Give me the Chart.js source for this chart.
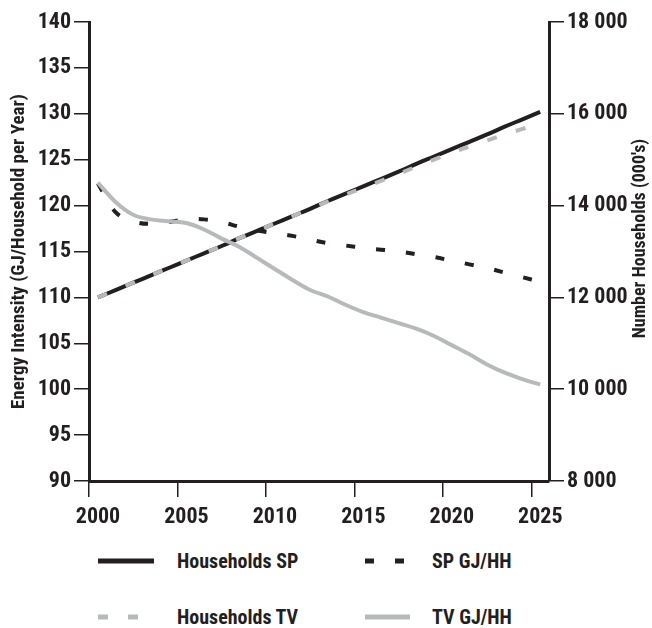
<!DOCTYPE html>
<html lang="en">
<head>
  <meta charset="UTF-8">
  <title>Energy Intensity and Households</title>
  <script src="https://cdn.jsdelivr.net/npm/chart.js"></script>
  <style>
    body {
      margin: 0;
      background: #fff;
      width: 652px;
      height: 628px;
      overflow: hidden;
      font-family: 'Roboto Condensed', 'Open Sans Condensed', sans-serif;
      font-weight: bold;
      color: #231f20;
    }
    #wrap { position: relative; width: 652px; height: 530px; }
    #legend { position: relative; width: 652px; height: 98px; }
    .item { position: absolute; display: flex; align-items: center; font-size: 20px; }
    .item svg { display: block; }
  </style>
</head>
<body>
  <div id="wrap"><canvas id="energyChart"></canvas></div>
  <div id="legend"></div>

  <script>
    const years = [2000, 2001, 2002, 2003, 2004, 2005, 2006, 2007, 2008, 2009, 2010, 2011, 2012,
                   2013, 2014, 2015, 2016, 2017, 2018, 2019, 2020, 2021, 2022, 2023, 2024, 2025];

    // number of households, thousands (right axis)
    const householdsSP = [12000, 12160, 12320, 12480, 12640, 12800, 12960, 13120, 13290, 13450, 13610, 13770, 13930,
                          14100, 14260, 14420, 14580, 14740, 14910, 15070, 15230, 15390, 15550, 15720, 15880, 16040];
    const householdsTV = [12000, 12160, 12320, 12480, 12640, 12800, 12960, 13120, 13290, 13450, 13610, 13770, 13930,
                          14090, 14240, 14390, 14540, 14690, 14850, 15000, 15150, 15290, 15420, 15550, 15670, 15790];

    // energy intensity, GJ per household per year (left axis)
    const spGJ = [122.4, 119.3, 118.3, 118.0, 118.2, 118.5, 118.5, 118.2, 117.7, 117.3, 117.0, 116.7, 116.3,
                  115.9, 115.65, 115.4, 115.2, 115.0, 114.7, 114.4, 114.0, 113.6, 113.2, 112.7, 112.2, 111.7];
    const tvGJ = [122.5, 120.4, 119.0, 118.5, 118.3, 118.1, 117.4, 116.4, 115.5, 114.3, 113.1, 111.9, 110.8,
                  110.1, 109.2, 108.4, 107.8, 107.2, 106.6, 105.8, 104.8, 103.8, 102.7, 101.8, 101.1, 100.5];

    const yearTicks = [2000, 2005, 2010, 2015, 2020, 2025];
    const leftTicks = [90, 95, 100, 105, 110, 115, 120, 125, 130, 135, 140];
    const rightTicks = [8000, 10000, 12000, 14000, 16000, 18000];

    const INK = '#231f20';
    const GREY = '#b7b9bb';
    const FONT = "'Roboto Condensed', 'Open Sans Condensed', sans-serif";
    const RIGHT_TITLE = "Number Households (000's)";

    // values sit in the middle of each year
    const pts = vals => vals.map((v, i) => ({ x: years[i] + 0.5, y: v }));

    const series = [
      { label: 'Households SP', data: pts(householdsSP), yAxisID: 'y2', borderColor: INK, borderDash: [], order: 4 },
      { label: 'SP GJ/HH', data: pts(spGJ), yAxisID: 'y', borderColor: INK, borderDash: [9, 21], order: 2 },
      { label: 'Households TV', data: pts(householdsTV), yAxisID: 'y2', borderColor: GREY, borderDash: [10, 20], order: 3 },
      { label: 'TV GJ/HH', data: pts(tvGJ), yAxisID: 'y', borderColor: GREY, borderDash: [], order: 1 }
    ];

    const setTicks = list => scale => { scale.ticks = list.map(v => ({ value: v })); };
    const tickFont = { family: FONT, size: 22, weight: 'bold' };
    const titleFont = { family: FONT, size: 19, weight: 'bold' };

    // right-hand title reads bottom to top, like the left one
    const rightTitle = {
      id: 'rightTitle',
      afterDraw(chart) {
        const { ctx, chartArea } = chart;
        ctx.save();
        ctx.translate(chart.width - 12, (chartArea.top + chartArea.bottom) / 2 - 13);
        ctx.rotate(-Math.PI / 2);
        ctx.font = `bold 18px ${FONT}`;
        ctx.fillStyle = INK;
        ctx.textAlign = 'center';
        ctx.textBaseline = 'middle';
        ctx.fillText(RIGHT_TITLE, 0, 0);
        ctx.restore();
      }
    };

    new Chart(document.getElementById('energyChart'), {
      type: 'line',
      data: {
        datasets: series.map(s => Object.assign({
          borderWidth: 4,
          pointRadius: 0,
          tension: 0.4,
          fill: false,
          borderCapStyle: 'butt'
        }, s))
      },
      options: {
        responsive: true,
        maintainAspectRatio: false,
        animation: false,
        layout: { padding: { top: 22, left: 0, right: 0, bottom: 0 } },
        plugins: { legend: { display: false }, tooltip: { enabled: false } },
        scales: {
          x: {
            type: 'linear',
            min: 2000,
            max: 2026,
            afterBuildTicks: setTicks(yearTicks),
            afterFit: s => { s.height = 49; },
            border: { display: true, color: INK, width: 3 },
            grid: { drawOnChartArea: false, drawTicks: true, tickLength: 16, tickColor: INK, lineWidth: 1.5 },
            ticks: { color: INK, font: tickFont, padding: 7, labelOffset: 9, maxRotation: 0, callback: v => String(v) }
          },
          y: {
            position: 'left',
            min: 90,
            max: 140,
            afterBuildTicks: setTicks(leftTicks),
            afterFit: s => { s.width = 89; },
            border: { display: true, color: INK, width: 3 },
            grid: { drawOnChartArea: false, drawTicks: true, tickLength: 15, tickColor: INK, lineWidth: 1.5 },
            ticks: { color: INK, font: tickFont, padding: 3 },
            title: { display: true, text: 'Energy Intensity (GJ/Household per Year)', color: INK, font: titleFont, padding: { top: 8, bottom: 0 } }
          },
          y2: {
            position: 'right',
            min: 8000,
            max: 18000,
            afterBuildTicks: setTicks(rightTicks),
            afterFit: s => { s.width = 103; },
            border: { display: true, color: INK, width: 3 },
            grid: { drawOnChartArea: false, drawTicks: true, tickLength: 15, tickColor: INK, lineWidth: 1.5 },
            ticks: { color: INK, font: tickFont, padding: 3, callback: v => String(v).replace(/\B(?=(\d{3})+$)/g, ' ') }
          }
        }
      },
      plugins: [rightTitle]
    });

    // two-column legend under the chart, built from the same series
    const legendPos = [
      { left: 98, top: 16, sw: 56, tx: 177 },
      { left: 365, top: 16, sw: 45, tx: 432 },
      { left: 98, top: 72, sw: 45, tx: 177 },
      { left: 365, top: 72, sw: 45, tx: 432 }
    ];
    const legend = document.getElementById('legend');
    series.forEach((s, i) => {
      const p = legendPos[i];
      const item = document.createElement('div');
      item.className = 'item';
      item.style.left = p.left + 'px';
      item.style.top = p.top + 'px';
      const dash = s.borderDash.length ? s.borderDash.join(' ') : 'none';
      item.innerHTML =
        `<svg width="${p.tx - p.left}" height="30"><line x1="0" y1="15" x2="${p.sw}" y2="15" ` +
        `stroke="${s.borderColor}" stroke-width="5" stroke-dasharray="${dash}"/></svg>` +
        `<span>${s.label}</span>`;
      legend.appendChild(item);
    });
  </script>
</body>
</html>
